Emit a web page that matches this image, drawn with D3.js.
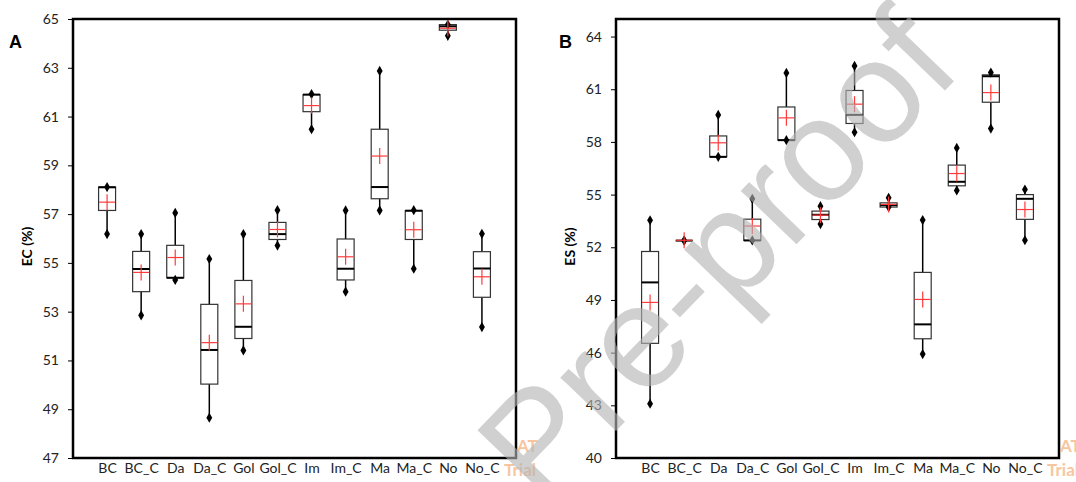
<!DOCTYPE html>
<html>
<head>
<meta charset="utf-8">
<script src="https://cdn.jsdelivr.net/npm/d3@7"></script>
<style>
  body { margin: 0; background: #fff; }
  text { font-family: Lato, "Open Sans", sans-serif; }
</style>
</head>
<body>
<div id="chart"></div>
<script>
const categories = ['BC', 'BC_C', 'Da', 'Da_C', 'Gol', 'Gol_C', 'Im', 'Im_C', 'Ma', 'Ma_C', 'No', 'No_C'];

// Panel A: EC (%)
const ecMin    = [56.18, 52.85, 54.30, 48.65, 51.41, 55.71, 60.48, 53.82, 57.15, 54.76, 64.31, 52.37];
const ecQ1     = [57.15, 53.82, 54.39, 50.03, 51.90, 55.96, 61.20, 54.30, 57.63, 55.96, 64.54, 53.59];
const ecMedian = [58.10, 54.75, 54.39, 51.43, 52.38, 56.18, 61.90, 54.76, 58.11, 57.14, 64.70, 54.77];
const ecQ3     = [58.11, 55.47, 55.72, 53.30, 54.28, 56.66, 61.90, 55.98, 60.48, 57.14, 64.77, 55.46];
const ecMax    = [58.11, 56.18, 57.05, 55.16, 56.18, 57.16, 61.92, 57.15, 62.87, 57.16, 64.77, 56.19];
const ecMean   = [57.49, 54.61, 55.22, 51.73, 53.32, 56.37, 61.45, 55.25, 59.38, 56.36, 64.62, 54.43];
const ecTicks  = [47, 49, 51, 53, 55, 57, 59, 61, 63, 65];

// Panel B: ES (%)
const esMin    = [43.09, 52.38, 57.15, 52.39, 58.10, 53.32, 58.55, 54.29, 45.92, 55.24, 58.76, 52.40];
const esQ1     = [46.53, 52.38, 57.15, 52.39, 58.10, 53.58, 59.05, 54.29, 46.79, 55.50, 60.26, 53.59];
const esMedian = [50.00, 52.38, 57.15, 52.39, 58.10, 53.85, 59.54, 54.40, 47.61, 55.73, 61.74, 54.76];
const esQ3     = [51.76, 52.38, 58.34, 53.60, 59.99, 54.06, 60.93, 54.53, 50.57, 56.68, 61.82, 55.00];
const esMax    = [53.54, 52.38, 59.54, 54.76, 61.93, 54.34, 62.33, 54.82, 53.55, 57.66, 61.95, 55.29];
const esMean   = [48.86, 52.40, 57.95, 53.21, 59.37, 53.83, 60.15, 54.44, 49.03, 56.20, 60.81, 54.15];
const esTicks  = [40, 43, 46, 49, 52, 55, 58, 61, 64];

const width = 1076;
const height = 482;

const svg = d3.select('#chart')
    .append('svg')
    .attr('width', width)
    .attr('height', height);

function drawPanel(opts) {
    const x = d3.scalePoint()
        .domain(categories)
        .range([opts.left, opts.right])
        .padding(1);

    const y = d3.scaleLinear()
        .domain(opts.domain)
        .range([opts.bottom, opts.top]);

    const g = svg.append('g');

    // frame
    g.append('rect')
        .attr('x', opts.left)
        .attr('y', opts.top)
        .attr('width', opts.right - opts.left)
        .attr('height', opts.bottom - opts.top)
        .attr('fill', 'none')
        .attr('stroke', '#000')
        .attr('stroke-width', 2.5);

    const yAxis = g.append('g')
        .attr('transform', `translate(${opts.left},0)`)
        .call(d3.axisLeft(y).tickValues(opts.ticks).tickSize(5).tickPadding(9).tickFormat(d3.format('d')));
    yAxis.select('.domain').remove();
    yAxis.selectAll('text').style('font-size', '14px').attr('fill', '#222');

    const xAxis = g.append('g')
        .attr('transform', `translate(0,${opts.bottom})`)
        .call(d3.axisBottom(x).tickSize(0).tickPadding(5));
    xAxis.select('.domain').remove();
    xAxis.selectAll('text').style('font-size', '14px').attr('fill', '#222');

    const boxW = 17;
    const data = categories.map((c, i) => ({
        cat: c,
        min: opts.min[i], q1: opts.q1[i], med: opts.median[i],
        q3: opts.q3[i], max: opts.max[i], mean: opts.mean[i]
    }));

    const boxes = g.selectAll('.box')
        .data(data)
        .enter()
        .append('g')
        .attr('class', 'box')
        .attr('transform', d => `translate(${x(d.cat)},0)`);

    // whiskers
    boxes.append('line')
        .attr('y1', d => y(d.q3)).attr('y2', d => y(d.max))
        .attr('stroke', '#000').attr('stroke-width', 1.5);
    boxes.append('line')
        .attr('y1', d => y(d.q1)).attr('y2', d => y(d.min))
        .attr('stroke', '#000').attr('stroke-width', 1.5);

    boxes.filter(d => d.q3 > d.q1).append('rect')
        .attr('x', -boxW / 2)
        .attr('y', d => y(d.q3))
        .attr('width', boxW)
        .attr('height', d => y(d.q1) - y(d.q3))
        .attr('fill', '#fff')
        .attr('stroke', '#333')
        .attr('stroke-width', 1.2);

    boxes.append('line')
        .attr('x1', -boxW / 2).attr('x2', boxW / 2)
        .attr('y1', d => y(d.med)).attr('y2', d => y(d.med))
        .attr('stroke', '#000').attr('stroke-width', 2);

    // min / max diamonds
    const diamond = d3.symbol().type(d3.symbolDiamond).size(30);
    ['min', 'max'].forEach(k => {
        boxes.append('path')
            .attr('d', diamond)
            .attr('transform', d => `translate(0,${y(d[k])})`)
            .attr('fill', '#000');
    });

    // mean cross
    boxes.append('line')
        .attr('x1', -8).attr('x2', 8)
        .attr('y1', d => y(d.mean)).attr('y2', d => y(d.mean))
        .attr('stroke', '#ff3b3b').attr('stroke-width', 1.2);
    boxes.append('line')
        .attr('y1', d => y(d.mean) - 8).attr('y2', d => y(d.mean) + 8)
        .attr('stroke', '#ff3b3b').attr('stroke-width', 1.2);

    // axis title
    svg.append('text')
        .attr('transform', `translate(${opts.titleX},${(opts.top + opts.bottom) / 2 + 8}) rotate(-90)`)
        .attr('text-anchor', 'middle')
        .style('font-size', '14px')
        .style('font-weight', 'bold')
        .text(opts.title);

    svg.append('text')
        .attr('x', opts.letterX)
        .attr('y', 48)
        .style('font-size', '18px')
        .style('font-weight', 'bold')
        .style('font-family', '"Liberation Sans", Arial, sans-serif')
        .text(opts.letter);

    // trial stamp
    svg.append('text')
        .attr('x', opts.right + 1).attr('y', 452)
        .style('font-size', '17px').style('font-weight', 'bold')
        .attr('fill', '#f6b98a').attr('opacity', 0.8)
        .text('AT');
    svg.append('text')
        .attr('x', opts.right - 12).attr('y', 476)
        .style('font-size', '17px').style('font-weight', 'bold')
        .attr('fill', '#f6b98a').attr('opacity', 0.8)
        .text('Trial');
}

drawPanel({
    left: 73, right: 516, top: 19, bottom: 458,
    domain: [47, 65], ticks: ecTicks,
    min: ecMin, q1: ecQ1, median: ecMedian, q3: ecQ3, max: ecMax, mean: ecMean,
    title: 'EC (%)', titleX: 32, letter: 'A', letterX: 9
});

drawPanel({
    left: 616, right: 1059, top: 19, bottom: 458,
    domain: [40, 65], ticks: esTicks,
    min: esMin, q1: esQ1, median: esMedian, q3: esQ3, max: esMax, mean: esMean,
    title: 'ES (%)', titleX: 575, letter: 'B', letterX: 559
});

// watermark
svg.append('text')
    .attr('transform', 'translate(716,254) rotate(-46)')
    .attr('text-anchor', 'middle')
    .attr('dy', '0.35em')
    .style('font-size', '146px')
    .style('font-family', '"Liberation Sans", Arial, sans-serif')
    .attr('fill', '#b4b4b4')
    .attr('opacity', 0.62)
    .text('Pre-proof');
</script>
</body>
</html>
